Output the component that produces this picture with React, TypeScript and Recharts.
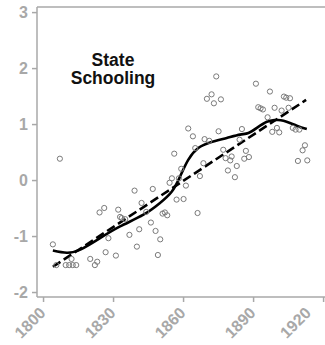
import React from 'react';
import { ComposedChart, Scatter, Line, XAxis, YAxis, ReferenceLine } from 'recharts';

const xTicks = [1800, 1830, 1860, 1890, 1920];
const yTicks = [-2, -1, 0, 1, 2, 3];

const pointYears = [
  1804, 1805.5, 1807, 1809.5, 1811, 1812.5, 1814, 1812, 1820, 1822, 1823, 1824, 1826, 1826.6,
  1827.8, 1831, 1832, 1832.8, 1833.5, 1835, 1836.8, 1840, 1841, 1839, 1842, 1844, 1846, 1846.8,
  1848, 1849, 1850, 1851, 1852, 1853, 1854, 1855, 1856, 1857, 1858, 1859, 1860, 1861, 1862,
  1864, 1865, 1866, 1867, 1868.5, 1869, 1870, 1871, 1872, 1873, 1874, 1875, 1876, 1877, 1878,
  1879, 1880, 1880.6, 1882, 1882.8, 1884, 1885, 1886, 1886.7, 1888, 1891, 1892, 1893, 1894,
  1896, 1897, 1898, 1899, 1900, 1901, 1902, 1903, 1904, 1905, 1905.6, 1906.8, 1908, 1909,
  1909.6, 1911, 1912, 1913,
];
const pointValues = [
  -1.14, -1.51, 0.39, -1.51, -1.51, -1.51, -1.51, -1.4, -1.4, -1.51, -1.45, -0.57, -0.49, -1.28,
  -1.03, -1.34, -0.52, -0.65, -0.67, -0.69, -0.97, -1.18, -0.87, -0.18, -0.4, -0.56, -0.75, -0.15,
  -0.9, -1.33, -1.05, -0.59, -0.57, -0.62, -0.04, 0.04, 0.48, -0.34, 0.04, 0.21, -0.33, -0.09, 0.93,
  0.79, 0.58, -0.58, 0.08, 0.31, 0.74, 1.46, 0.71, 1.54, 1.38, 1.86, 0.88, 1.45, 0.55, 0.4,
  0.18, 0.36, 0.43, 0.06, 0.26, 0.73, 0.92, 0.39, 0.53, 0.42, 1.73, 1.31, 1.29, 1.27,
  1.13, 1.59, 0.87, 1.3, 0.94, 0.86, 1.25, 1.5, 1.48, 1.3, 1.47, 0.94, 0.91, 0.35,
  0.91, 0.54, 0.63, 0.36,
];

const smoothYears = [1804, 1810, 1816, 1824.2, 1832.8, 1842.8, 1849.9, 1854.9, 1858.5, 1862, 1866.3, 1871.4, 1878.5, 1884.2, 1887.8, 1891.4, 1895.7, 1899.2, 1902.8, 1908.5, 1912.8];
const smoothValues = [-1.25, -1.29, -1.23, -1.03, -0.82, -0.61, -0.4, -0.2, 0.07, 0.37, 0.58, 0.68, 0.76, 0.82, 0.85, 0.94, 1.05, 1.08, 1.07, 0.98, 0.92];

const trendYears = [1804, 1912.5];
const trendValues = [-1.54, 1.44];

const points = pointYears.map((x, i) => ({ x, y: pointValues[i] }));
const smooth = smoothYears.map((x, i) => ({ x, y: smoothValues[i] }));
const trend = trendYears.map((x, i) => ({ x, y: trendValues[i] }));

const FONT = '"Liberation Sans", Arial, Helvetica, sans-serif';
const GREY = '#a8a8a8';

const renderXTick = (props: any) => {
  const { x, y, payload } = props;
  const ax = x + 3;
  const ay = y + 12;
  return (
    <text
      x={ax}
      y={ay}
      textAnchor="end"
      transform={`rotate(-45 ${ax} ${ay})`}
      fontFamily={FONT}
      fontWeight="bold"
      fontSize={16}
      fill={GREY}
    >
      {payload.value}
    </text>
  );
};

const Dot = (props: any) => (
  <circle cx={props.cx} cy={props.cy} r={2.6} fill="none" stroke="#7a7a7a" strokeWidth={1} />
);

export default function App() {
  return (
    <div style={{ position: 'absolute', left: 0, top: 0, width: 325, height: 345, overflow: 'hidden', background: '#fff' }}>
      <ComposedChart width={325} height={345} margin={{ top: 7, right: 0, bottom: 0, left: 0 }}>
        <XAxis
          type="number"
          dataKey="x"
          domain={[1797.2, 1920.6]}
          ticks={xTicks}
          allowDataOverflow
          height={48}
          tickSize={5}
          tickMargin={0}
          stroke={GREY}
          strokeWidth={1.5}
          tick={renderXTick}
        />
        <YAxis
          type="number"
          dataKey="y"
          domain={[-2.08, 3.1]}
          ticks={yTicks}
          allowDataOverflow
          width={37}
          tickSize={5}
          tickMargin={4}
          stroke={GREY}
          strokeWidth={1.5}
          tick={{ fontFamily: FONT, fontWeight: 'bold', fontSize: 16, fill: GREY }}
        />
        <ReferenceLine y={3.1} stroke={GREY} strokeWidth={1.5} />
        <Scatter data={points} shape={<Dot />} isAnimationActive={false} />
        <Line data={smooth} dataKey="y" type="natural" stroke="#000" strokeWidth={2.6} dot={false} isAnimationActive={false} />
        <Line data={trend} dataKey="y" type="linear" stroke="#000" strokeWidth={2.6} strokeDasharray="9 4" dot={false} isAnimationActive={false} />
      </ComposedChart>
      <svg width={325} height={345} style={{ position: 'absolute', left: 0, top: 0, pointerEvents: 'none' }}>
        <text x={113} y={66} textAnchor="middle" fontFamily={FONT} fontWeight="bold" fontSize={17.5} fill="#111">State</text>
        <text x={113} y={83.5} textAnchor="middle" fontFamily={FONT} fontWeight="bold" fontSize={17.5} fill="#111">Schooling</text>
      </svg>
    </div>
  );
}
